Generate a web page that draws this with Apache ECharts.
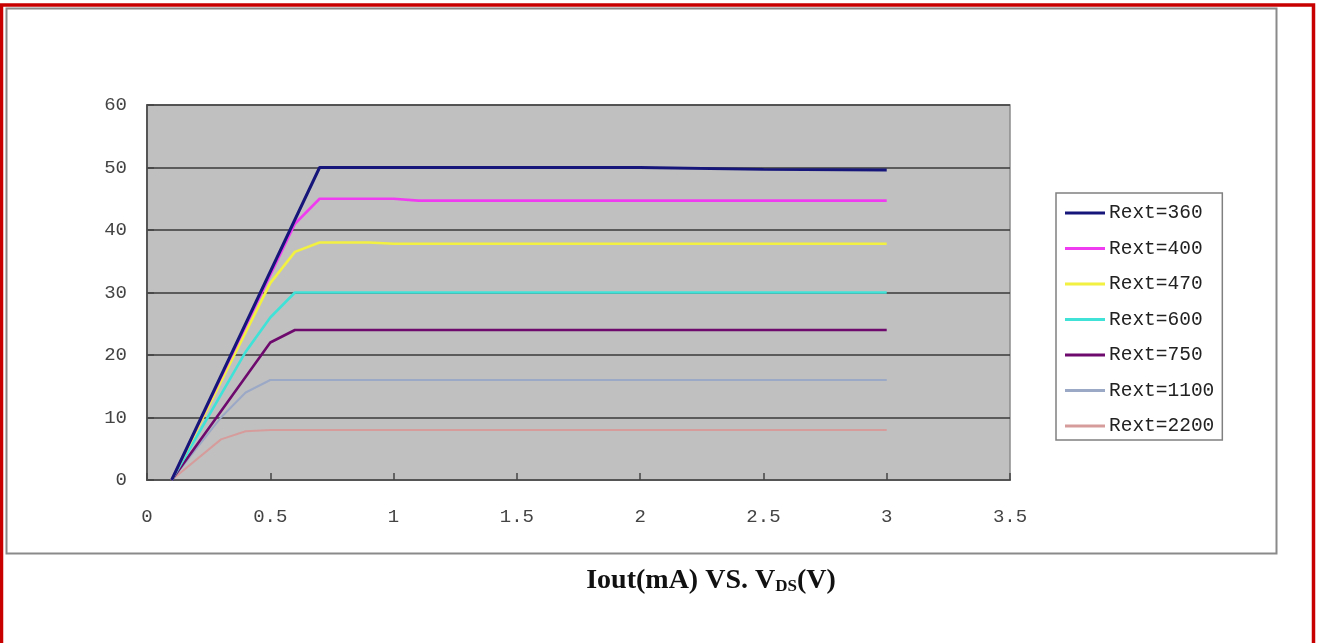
<!DOCTYPE html>
<html>
<head>
<meta charset="utf-8">
<script src="https://cdn.jsdelivr.net/npm/echarts@6/dist/echarts.min.js"></script>
<style>
html,body{margin:0;padding:0;background:#fff;}
#chart{width:1317px;height:643px;}
</style>
</head>
<body>
<div id="chart"></div>
<script>
// ---- data ----
const seriesNames = ['Rext=360','Rext=400','Rext=470','Rext=600','Rext=750','Rext=1100','Rext=2200'];
const rext360  = [[0.1,0],[0.7,50],[1,50],[2,50],[2.5,49.7],[3,49.6]];
const rext400  = [[0.1,0],[0.6,41],[0.7,45],[1,45],[1.1,44.7],[3,44.7]];
const rext470  = [[0.1,0],[0.5,31.5],[0.6,36.5],[0.7,38],[0.9,38],[1,37.8],[3,37.8]];
const rext600  = [[0.1,0],[0.4,20.5],[0.5,26],[0.6,30],[3,30]];
const rext750  = [[0.1,0],[0.5,22],[0.6,24],[3,24]];
const rext1100 = [[0.1,0],[0.3,10],[0.4,14],[0.5,16],[3,16]];
const rext2200 = [[0.1,0],[0.3,6.5],[0.4,7.8],[0.5,8],[3,8]];
const xTicks = [0,0.5,1,1.5,2,2.5,3,3.5];
const yTicks = [0,10,20,30,40,50,60];

const allData = [rext360,rext400,rext470,rext600,rext750,rext1100,rext2200];
const colors = ['#16167a','#f03cf0','#f2f040','#40e2d8','#6e0a6e','#9ba8c6','#d69c9c'];
const widths = [3,2.6,2.6,2.6,2.6,2,2];

const chart = echarts.init(document.getElementById('chart'));
const option = {
  backgroundColor:'#ffffff',
  animation:false,
  graphic:[
    {type:'rect', shape:{x:1.5,y:5,width:1312,height:660}, style:{fill:'none',stroke:'#c80000',lineWidth:3.5}, silent:true},
    {type:'rect', shape:{x:6.5,y:8.5,width:1270,height:545}, style:{fill:'none',stroke:'#8a8a8a',lineWidth:2}, silent:true}
  ],
  title:{
    text:'{a|Iout(mA) VS. V}{b|DS}{a|(V)}',
    left:706, top:558, textAlign:'center',
    textStyle:{
      rich:{
        a:{fontFamily:'Liberation Serif',fontWeight:'bold',fontSize:28,color:'#111',verticalAlign:'bottom',lineHeight:32},
        b:{fontFamily:'Liberation Serif',fontWeight:'bold',fontSize:17,color:'#111',verticalAlign:'bottom',lineHeight:24}
      }
    }
  },
  legend:{
    orient:'vertical',
    left:1056, top:193,
    data:seriesNames,
    icon:'rect',
    itemWidth:40, itemHeight:3,
    itemGap:15.5,
    padding:[10,8,4,9],
    borderColor:'#808080', borderWidth:1.5, borderRadius:0,
    backgroundColor:'#ffffff',
    textStyle:{fontFamily:'Liberation Mono',fontSize:19.5,color:'#222',padding:[0,0,0,-1]}
  },
  grid:{left:147,right:307,top:105,bottom:163,show:true,backgroundColor:'#c0c0c0',borderColor:'#8c8c8c',borderWidth:1.5},
  xAxis:{
    type:'value', min:xTicks[0], max:xTicks[xTicks.length-1], interval:0.5,
    axisLine:{show:true,lineStyle:{color:'#555',width:2}},
    axisTick:{show:true,inside:true,length:7,lineStyle:{color:'#444',width:1.5}},
    axisLabel:{margin:27,fontFamily:'Liberation Mono',fontSize:19,color:'#444',formatter:v=>String(v)},
    splitLine:{show:false}
  },
  yAxis:{
    type:'value', min:yTicks[0], max:yTicks[yTicks.length-1], interval:10,
    axisLine:{show:true,lineStyle:{color:'#555',width:2}},
    axisTick:{show:true,inside:true,length:7,lineStyle:{color:'#444',width:1.5}},
    axisLabel:{margin:20,fontFamily:'Liberation Mono',fontSize:19,color:'#444'},
    splitLine:{show:true,lineStyle:{color:'#3a3a3a',width:1.5}}
  },
  series: seriesNames.map((n,i)=>({
    name:n, type:'line', data:allData[i], symbol:'none', showSymbol:false,
    color:colors[i], lineStyle:{color:colors[i],width:widths[i]},
    z: 10 - i
  }))
};
chart.setOption(option);
</script>
</body>
</html>
